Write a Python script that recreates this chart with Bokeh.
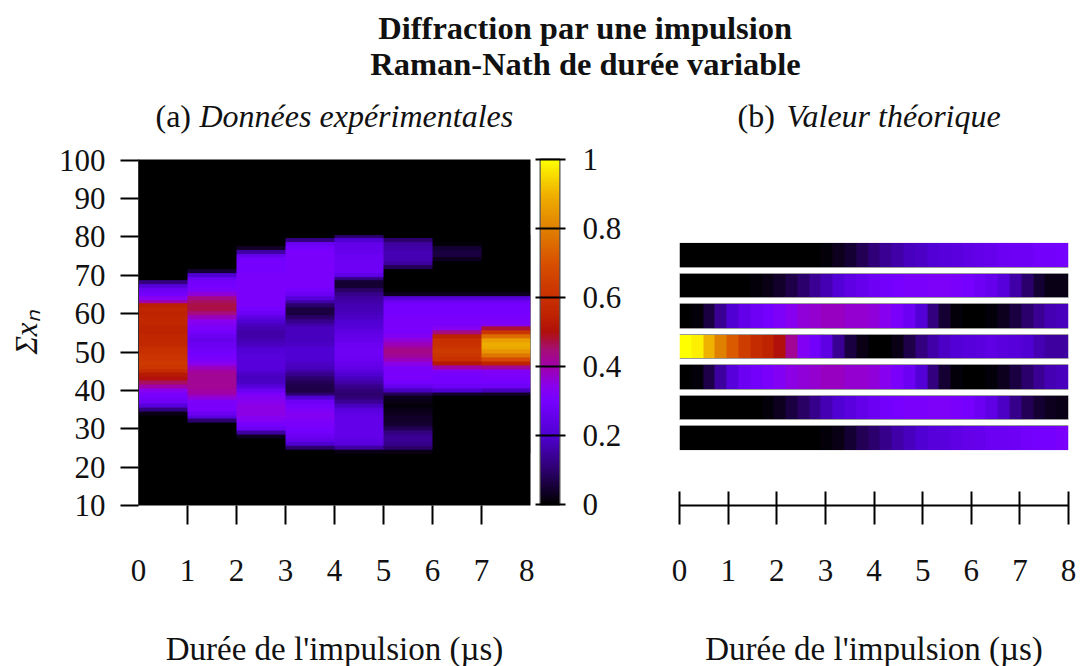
import numpy as np
from bokeh.plotting import figure
from bokeh.embed import file_html
from bokeh.resources import INLINE
from bokeh.layouts import column, row
from bokeh.models import FixedTicker, LinearColorMapper, Range1d, Label

# ---- data -----------------------------------------------------------
y_rows = list(range(24, 81))
col0 = [0,0,0,0,0,0, 0,0,0,0,.02,.12,.22,.28,.3,.31, .34,.4,.46,.5,.53,.58,.62,.63,.62,.61,
        .6,.59,.57,.57,.56,.55,.55,.56,.57,.56, .55,.56,.54,.4,.34,.3,.27,.22,.12,0, 0,0,0,0,0,0,0,0,0,0,0]
col1 = [0,0,0,0,0,0, 0,0,.1,.22,.27,.31,.31,.32,.36,.4, .41,.42,.42,.42,.42,.41,.38,.34,.31,.3,
        .29,.28,.27,.26,.27,.29,.31,.33,.34,.38, .44,.47,.47,.46,.43,.36,.32,.3,.29,.27, .2,.05,0,0,0,0,0,0,0,0,0]
col2 = [0,0,0,0,.03,.15, .27,.3,.33,.34,.35,.35,.35,.34,.33,.31, .27,.22,.19,.18,.19,.21,.22,.22,.22,.22,
        .21,.2,.18,.17,.16,.16,.17,.18,.2,.24, .28,.3,.31,.31,.31,.31,.31,.31,.31,.31, .31,.3,.3,.3,.29,.26,.16,.04,0,0,0]
col3 = [0,.1,.2,.25,.27,.29, .3,.31,.32,.33,.33,.32,.3,.28,.2,.1, .07,.07,.08,.1,.13,.16,.18,.19,.2,.2,
        .2,.2,.19,.18,.18,.18,.18,.16,.13,.09, .06,.06,.1,.16,.22,.27,.3,.31,.31,.31, .31,.31,.31,.31,.31,.31,.31,.3,.27,.12,0]
col4 = [.02,.15,.23,.24,.25,.25, .25,.25,.25,.25,.24,.22,.18,.14,.11,.1, .11,.13,.16,.18,.2,.23,.25,.26,.27,.28,
        .28,.28,.27,.26,.25,.24,.22,.21,.2,.19, .18,.17,.17,.16,.15,.13,.09,.05,.05,.12, .24,.28,.28,.28,.27,.27,.26,.26,.25,.2,.1]
col5 = [.02,.1,.13,.14,.14,.12, .08,.05,.04,.04,.03,.02,.01,.02,.03,.08, .18,.26,.29,.31,.31,.31,.32,.35,.39,.42,
        .43,.42,.39,.36,.33,.31,.31,.31,.31,.31, .3,.3,.3,.28,.22,.03,0,0,0,0, 0,0,.08,.15,.17,.17,.17,.16,.15,.1,0]
col6 = [0,0,0,0,0,0, 0,0,0,0,0,0,0,0,0,.05, .2,.28,.3,.3,.3,.33,.4,.52,.6,.62,
        .63,.62,.6,.6,.55,.44,.34,.31,.31,.31, .3,.3,.3,.28,.22,.03,0,0,0,0, 0,0,0,0,.03,.06,.06,.05,.01,0,0]
col7 = [0,0,0,0,0,0, 0,0,0,0,0,0,0,0,0,.04, .18,.28,.3,.31,.32,.33,.42,.55,.68,.78,
        .84,.88,.89,.86,.76,.62,.48,.33,.31,.31, .3,.3,.3,.28,.22,.03,0,0,0,0, 0,0,0,0,0,0,0,0,0,0,0]
columns_a = [col0, col1, col2, col3, col4, col5, col6, col7]

strip_centres = [75.3, 67.3, 59.4, 51.4, 43.5, 35.5, 27.6]
strip1 = [0,0,0,0,0,0,0,0,0,0,0,0,.01,.03,.05,.08,.11,.14,.16,.18,.19,.21,.22,.23,.24,.25,.26,.27,.28,.28,.29,.29,.3]
strip2 = [0,0,0,0,0,0,.01,.02,.04,.07,.1,.14,.17,.21,.24,.26,.28,.29,.3,.31,.31,.32,.32,.31,.3,.28,.26,.22,.16,.1,.05,.02,.02]
strip3 = [0,.01,.06,.14,.2,.25,.28,.3,.32,.34,.36,.37,.38,.38,.37,.37,.36,.34,.31,.27,.21,.12,.05,.01,0,0,.01,.03,.06,.1,.14,.17,.18]
strip4 = [1,.98,.9,.8,.72,.64,.58,.55,.5,.42,.33,.29,.24,.14,.06,.02,0,0,.02,.07,.12,.16,.19,.21,.22,.23,.24,.23,.22,.2,.17,.15,.15]
strip5 = [0,.01,.07,.15,.22,.27,.29,.31,.33,.35,.36,.37,.38,.38,.37,.37,.36,.34,.31,.27,.21,.12,.05,.01,0,0,.01,.03,.06,.1,.14,.17,.18]
strip6 = [0,0,0,0,0,0,0,.01,.03,.06,.09,.13,.17,.2,.23,.25,.27,.29,.3,.31,.31,.32,.32,.31,.3,.27,.24,.19,.13,.08,.05,.03,.02]
strip7 = [0,0,0,0,0,0,0,0,0,0,0,0,.01,.02,.05,.08,.1,.13,.16,.18,.2,.22,.23,.24,.25,.26,.27,.27,.28,.29,.3,.3,.31]
strips = [strip1, strip2, strip3, strip4, strip5, strip6, strip7]

x_ticks = [0,1,2,3,4,5,6,7,8]
y_ticks = [10,20,30,40,50,60,70,80,90,100]
cb_ticks = [0,.2,.4,.6,.8,1]

stop_v = [0, .1, .2, .3, .34, .4, .45, .5, .55, .6, .7, .8, .9, 1]
stop_c = [(0,0,0),(45,0,110),(80,0,210),(118,0,255),(135,0,240),(160,0,170),(165,15,115),(176,16,10),(190,35,0),(200,48,0),(216,80,0),(224,128,0),(240,176,0),(255,255,0)]

# ---- helpers --------------------------------------------------------
grid = np.linspace(0, 1, 256)
palette = ["#%02x%02x%02x" % tuple(int(round(np.interp(g, stop_v, [c[i] for c in stop_c]))) for i in range(3)) for g in grid]
mapper = LinearColorMapper(palette=palette, low=0, high=1)

SERIF = "Liberation Serif"
FS = "31px"
FS_LABEL = "33px"
INK = "#111111"

def style_axis(ax):
    ax.major_label_text_font = SERIF
    ax.major_label_text_font_size = FS
    ax.major_label_text_color = INK
    ax.axis_label_text_font = SERIF
    ax.axis_label_text_font_size = FS_LABEL
    ax.axis_label_text_color = INK
    ax.axis_label_text_font_style = "normal"

def base(width, frame_w, left, right):
    p = figure(width=width, height=519, output_backend="svg", toolbar_location=None,
               x_range=Range1d(0, 8), y_range=Range1d(10, 100.2),
               min_border_left=left, min_border_right=right, min_border_top=16, min_border_bottom=157,
               frame_width=frame_w, frame_height=346)
    p.grid.visible = False
    p.outline_line_color = None
    p.background_fill_color = None
    p.border_fill_color = None
    return p

# ---- panel (a) ------------------------------------------------------
a = base(534, 392, 138, 4)
a.background_fill_color = "black"
dy = y_rows[1] - y_rows[0]
a.image(image=[np.array(columns_a, dtype=float).T], x=0, y=y_rows[0]-dy/2,
        dw=len(columns_a), dh=dy*len(y_rows), color_mapper=mapper)
xa = a.xaxis[0]
xa.ticker = FixedTicker(ticks=x_ticks, minor_ticks=x_ticks[1:-1])
xa.major_tick_out = 0; xa.major_tick_in = 0
xa.minor_tick_out = 19; xa.minor_tick_in = 0
xa.minor_tick_line_color = "black"; xa.minor_tick_line_width = 2
xa.major_label_standoff = 35
xa.axis_line_color = None
xa.axis_label = "Durée de l'impulsion (µs)"
xa.axis_label_standoff = 47
style_axis(xa)
ya = a.yaxis[0]
ya.ticker = FixedTicker(ticks=y_ticks)
ya.major_tick_out = 18; ya.major_tick_in = 0
ya.major_tick_line_width = 2; ya.major_tick_line_color = "black"
ya.axis_line_color = "#333333"
ya.major_label_standoff = 15
ya.minor_tick_line_color = None
style_axis(ya)
ya.axis_label = "Σxₙ"
ya.axis_label_standoff = 12
ya.axis_label_text_font_style = "italic"
ya.axis_label_text_font_size = FS

# ---- colour bar -----------------------------------------------------
b = figure(width=89, height=519, output_backend="svg", toolbar_location=None,
           x_range=Range1d(0, 1), y_range=Range1d(0, 1),
           x_axis_location=None, y_axis_location="right",
           min_border_left=6, min_border_right=64, min_border_top=17, min_border_bottom=157,
           frame_width=19, frame_height=345)
b.grid.visible = False
b.outline_line_color = "#555555"; b.outline_line_width = 2
b.border_fill_color = None
b.image(image=[grid.reshape(-1, 1)], x=0, y=0, dw=1, dh=1, color_mapper=mapper)
yb = b.yaxis[0]
yb.ticker = FixedTicker(ticks=cb_ticks)
yb.major_label_overrides = {0: "0", .2: "0.2", .4: "0.4", .6: "0.6", .8: "0.8", 1: "1"}
yb.major_tick_in = 24; yb.major_tick_out = 6
yb.major_tick_line_width = 2; yb.major_tick_line_color = "black"
yb.minor_tick_line_color = None
yb.axis_line_color = None
yb.major_label_standoff = 17
style_axis(yb)

# ---- panel (b) ------------------------------------------------------
c = base(457, 389, 55, 13)
for centre, s in zip(strip_centres, strips):
    c.image(image=[np.array(s, dtype=float).reshape(1, -1)], x=0, y=centre-3.15, dw=8, dh=6.3, color_mapper=mapper)
edges = [strip_centres[0]-3.15] + [e for k in strip_centres[1:-1] for e in (k+3.15, k-3.15)] + [strip_centres[-1]+3.15]
c.hspan(y=edges, line_color="#999999", line_width=1)
xc = c.xaxis[0]
xc.ticker = FixedTicker(ticks=x_ticks)
xc.major_tick_out = 19; xc.major_tick_in = 14
xc.major_tick_line_width = 2; xc.major_tick_line_color = "black"
xc.minor_tick_line_color = None
xc.axis_line_color = "black"; xc.axis_line_width = 2
xc.major_label_standoff = 35
xc.axis_label = "Durée de l'impulsion (µs)"
xc.axis_label_standoff = 47
style_axis(xc)
c.yaxis.visible = False

# ---- titles ---------------------------------------------------------
t = figure(width=1080, height=142, output_backend="svg", toolbar_location=None,
           x_range=Range1d(0, 1080), y_range=Range1d(142, 0),
           x_axis_location=None, y_axis_location=None,
           min_border_left=0, min_border_right=0, min_border_top=0, min_border_bottom=0)
t.grid.visible = False
t.outline_line_color = None
t.border_fill_color = None
def lab(x, y, text, style="normal", align="left", size="32px"):
    t.add_layout(Label(x=x, y=y, text=text, text_font=SERIF, text_font_size=size, text_font_style=style,
                       text_color=INK, text_align=align, text_baseline="alphabetic"))
lab(585, 27, "Diffraction par une impulsion", "bold", "center", "32.5px")
lab(585, 63, "Raman-Nath de durée variable", "bold", "center", "32.5px")
lab(155, 115, "(a) ")
lab(199, 115, "Données expérimentales", "italic")
lab(737, 115, "(b) ")
lab(786, 115, "Valeur théorique", "italic")

page = column(t, row(a, b, c, spacing=0), spacing=0)
open("out.html", "w").write(file_html(page, INLINE))
